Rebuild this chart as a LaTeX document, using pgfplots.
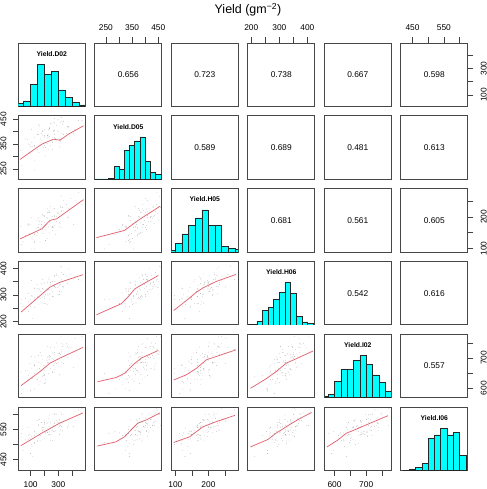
\documentclass[border=0pt]{standalone}
\usepackage{fontspec}
\setmainfont{Liberation Sans}
\usepackage{pgfplots}
\usepackage{pgfplotstable}
\pgfplotsset{compat=1.18}
\definecolor{lowred}{RGB}{226,100,112}
\definecolor{histcyan}{RGB}{0,255,255}
\newcommand\tickfont{\fontsize{8.4}{9}\selectfont}

\pgfplotstableread{
D02 D05 H05 H06 I02 I06
116 341 129 212 637 460
33 262 112 282 582 537
110 334 136 294 632 494
30 323 169 269 654 525
168 357 120 288 622 513
130 285 144 254 597 543
109 356 98 298 666 500
230 326 168 322 649 533
84 350 178 275 628 518
183 383 149 291 694 545
147 327 166 325 628 512
219 351 131 265 667 555
95 312 175 307 650 521
217 378 199 323 691 543
150 388 150 293 630 512
196 354 166 269 675 557
272 375 201 332 653 545
145 336 140 315 690 537
200 383 181 294 644 574
105 409 197 354 705 528
257 356 167 294 656 558
278 372 144 329 686 546
202 409 204 313 642 569
245 343 188 348 704 529
158 388 166 293 686 566
264 404 225 333 675 544
320 371 165 312 727 560
198 345 201 345 660 582
236 412 184 304 702 542
325 393 220 358 686 560
169 370 164 313 718 530
270 435 204 340 662 576
308 368 183 301 714 583
232 408 216 357 683 559
177 391 176 342 707 574
330 430 230 332 738 546
287 369 186 379 682 580
238 415 214 320 708 599
410 393 176 360 669 561
242 432 234 347 735 575
335 388 219 377 746 602
297 449 210 328 714 556
390 402 259 377 735 589
255 433 201 350 698 602
359 391 240 371 747 579
318 458 230 405 770 564
445 445 278 358 728 616
320 439 217 385 749 606
45 326 122 258 597 481
130 245 98 284 648 507
99 339 145 258 591 470
86 313 172 239 641 531
207 336 125 301 619 539
61 370 141 286 658 516
160 315 176 266 613 531
128 341 118 326 675 504
204 302 159 268 628 539
80 368 176 305 659 558
198 378 146 288 615 519
128 344 122 324 677 531
181 365 185 270 660 559
257 328 169 312 651 513
130 375 148 291 703 545
185 399 207 324 637 557
95 347 148 284 681 534
242 364 184 338 665 515
263 401 167 294 696 563
190 336 204 322 642 551
234 381 149 282 694 534
147 398 189 339 663 581
253 364 168 322 685 533
308 338 201 312 717 561
187 405 159 359 660 548
225 387 213 299 685 576
308 363 169 337 644 533
158 428 196 323 708 564
259 362 156 351 717 548
297 401 213 301 684 574
221 383 196 348 703 541
162 422 186 320 665 584
314 361 233 339 712 549
272 405 173 368 736 570
223 383 213 319 684 540
369 420 198 341 701 584
219 374 227 304 738 571
312 435 178 364 673 564
274 388 226 373 719 603
367 420 200 345 738 557
232 378 221 364 706 588
337 441 251 330 681 578
287 425 202 374 750 602
375 415 226 398 733 563
274 452 190 351 712 601
420 408 253 370 765 582
321 455 266 408 720 602
470 444 240 353 772 620
}\obs

\pgfplotsset{
 panel/.style={scale only axis, width=66.8bp, height=63.5bp, anchor=north west,
   axis line style={draw=black!72, line width=0.9bp},
   xtick=\empty, ytick=\empty, tick align=outside, major tick length=5.5bp,
   every tick/.style={black!75, line width=0.55bp},
   tick label style={font=\tickfont}},
 xD02/.style={xmin=12,xmax=493}, yD02/.style={ymin=12,ymax=493},
 xD05/.style={xmin=208,xmax=463}, yD05/.style={ymin=208,ymax=463},
 xH05/.style={xmin=88,xmax=290}, yH05/.style={ymin=88,ymax=290},
 xH06/.style={xmin=188,xmax=426}, yH06/.style={ymin=188,ymax=426},
 xI02/.style={xmin=568,xmax=779}, yI02/.style={ymin=568,ymax=779},
 xI06/.style={xmin=413,xmax=626}, yI06/.style={ymin=413,ymax=626},
 hist/.style={ymin=0,ymax=1.5},
 topx/.style={xtick pos=right, xticklabel pos=right, xticklabel shift=3bp},
 botx/.style={xtick pos=left, xticklabel pos=left, xticklabel shift=2.5bp},
 lefty/.style={ytick pos=left, yticklabel pos=left, yticklabel shift=3bp, yticklabel style={rotate=90,anchor=south}},
 righty/.style={ytick pos=right, yticklabel pos=right, yticklabel shift=4bp, yticklabel style={rotate=90,anchor=north}},
 topD05/.style={topx, xtick={250,300,350,400,450}, xticklabels={250,,350,,450}},
 topH06/.style={topx, xtick={200,250,300,350,400}, xticklabels={200,,300,,400}},
 topI06/.style={topx, xtick={450,500,550,600}, xticklabels={450,,550,}},
 botD02/.style={botx, xtick={100,200,300,400}, xticklabels={100,,300,}},
 botH05/.style={botx, xtick={100,150,200,250}, xticklabels={100,,200,}},
 botI02/.style={botx, xtick={600,650,700,750}, xticklabels={600,,700,}},
 leftD05/.style={lefty, ytick={250,300,350,400,450}, yticklabels={250,,350,,450}},
 leftH06/.style={lefty, ytick={200,250,300,350,400}, yticklabels={200,,300,,400}},
 leftI06/.style={lefty, ytick={450,500,550,600}, yticklabels={450,,550,}},
 rightD02/.style={righty, ytick={100,200,300,400}, yticklabels={100,,300,}},
 rightH05/.style={righty, ytick={100,150,200,250}, yticklabels={100,,200,}},
 rightI02/.style={righty, ytick={600,650,700,750}, yticklabels={600,,700,}},
 pts/.style={only marks, mark=*, mark size=0.33bp, black!40, mark options={draw opacity=0}},
 lo/.style={no marks, lowred, line width=0.75bp},
 bars/.style={ybar interval, fill=histcyan, draw=black!85, line width=0.5bp},
}
\newcommand\corr[1]{\node[font=\tickfont] at (rel axis cs:0.5,0.5) {#1};}
\newcommand\hlab[1]{\node[font=\bfseries\fontsize{6.8}{8}\selectfont] at (rel axis cs:0.5,0.83) {#1};}

\begin{document}
\begin{tikzpicture}
\path[use as bounding box] (0,0) rectangle (487bp,489bp);
\node[font=\fontsize{12.5}{14}\selectfont, anchor=base] at (248bp,475bp) {Yield (gm\textsuperscript{−2})};

% ---------- Row 1 ----------
\begin{axis}[panel, at={(18.4bp,446bp)}, xD02, hist]
\addplot[bars] coordinates {(0,0.08)(50,0.13)(100,0.52)(150,1.0)(200,0.76)(250,0.83)(300,0.39)(350,0.22)(400,0.10)(450,0.04)(500,0)};
\hlab{Yield.D02}
\end{axis}
\begin{axis}[panel, at={(94.9bp,446bp)}, xD05, yD02, topD05]
\corr{0.656}
\end{axis}
\begin{axis}[panel, at={(171.4bp,446bp)}, xH05, yD02]
\corr{0.723}
\end{axis}
\begin{axis}[panel, at={(247.9bp,446bp)}, xH06, yD02, topH06]
\corr{0.738}
\end{axis}
\begin{axis}[panel, at={(324.4bp,446bp)}, xI02, yD02]
\corr{0.667}
\end{axis}
\begin{axis}[panel, at={(400.9bp,446bp)}, xI06, yD02, topI06, rightD02]
\corr{0.598}
\end{axis}

% ---------- Row 2 ----------
\begin{axis}[panel, at={(18.4bp,373.2bp)}, xD02, yD05, leftD05]
\addplot[pts] table[x=D02,y=D05] {\obs};
\addplot[lo] coordinates {(24,288)(180,349)(264,369)(312,365)(372,389)(481,423)};
\end{axis}
\begin{axis}[panel, at={(94.9bp,373.2bp)}, xD05, hist]
\addplot[bars] coordinates {(200,0.01)(220,0.01)(240,0.01)(260,0.03)(280,0.30)(300,0.24)(320,0.69)(340,0.81)(360,0.91)(380,1.0)(400,0.42)(420,0.17)(440,0.11)(460,0)};
\hlab{Yield.D05}
\end{axis}
\begin{axis}[panel, at={(171.4bp,373.2bp)}, xH05, yD05]
\corr{0.589}
\end{axis}
\begin{axis}[panel, at={(247.9bp,373.2bp)}, xH06, yD05]
\corr{0.689}
\end{axis}
\begin{axis}[panel, at={(324.4bp,373.2bp)}, xI02, yD05]
\corr{0.481}
\end{axis}
\begin{axis}[panel, at={(400.9bp,373.2bp)}, xI06, yD05]
\corr{0.613}
\end{axis}

% ---------- Row 3 ----------
\begin{axis}[panel, at={(18.4bp,300.4bp)}, xD02, yH05]
\addplot[pts] table[x=D02,y=H05] {\obs};
\addplot[lo] coordinates {(24,130)(180,162)(240,189)(288,194)(481,255)};
\end{axis}
\begin{axis}[panel, at={(94.9bp,300.4bp)}, xD05, yH05]
\addplot[pts] table[x=D05,y=H05] {\obs};
\addplot[lo] coordinates {(214,134)(321,157)(347,173)(373,189)(457,234)};
\end{axis}
\begin{axis}[panel, at={(171.4bp,300.4bp)}, xH05, hist]
\addplot[bars] coordinates {(80,0.04)(100,0.2)(120,0.43)(140,0.63)(160,0.81)(180,1.0)(200,0.63)(220,0.63)(240,0.13)(260,0.08)(280,0.07)(300,0)};
\hlab{Yield.H05}
\end{axis}
\begin{axis}[panel, at={(247.9bp,300.4bp)}, xH06, yH05]
\corr{0.681}
\end{axis}
\begin{axis}[panel, at={(324.4bp,300.4bp)}, xI02, yH05]
\corr{0.561}
\end{axis}
\begin{axis}[panel, at={(400.9bp,300.4bp)}, xI06, yH05, rightH05]
\corr{0.605}
\end{axis}

% ---------- Row 4 ----------
\begin{axis}[panel, at={(18.4bp,227.6bp)}, xD02, yH06, leftH06]
\addplot[pts] table[x=D02,y=H06] {\obs};
\addplot[lo] coordinates {(31,236)(156,292)(240,330)(313,348)(476,376)};
\end{axis}
\begin{axis}[panel, at={(94.9bp,227.6bp)}, xD05, yH06]
\addplot[pts] table[x=D05,y=H06] {\obs};
\addplot[lo] coordinates {(214,226)(308,267)(334,292)(360,323)(386,338)(450,373)};
\end{axis}
\begin{axis}[panel, at={(171.4bp,227.6bp)}, xH05, yH06]
\addplot[pts] table[x=H05,y=H06] {\obs};
\addplot[lo] coordinates {(95,242)(133,279)(164,311)(184,327)(224,351)(283,377)};
\end{axis}
\begin{axis}[panel, at={(247.9bp,227.6bp)}, xH06, hist]
\addplot[bars] coordinates {(180,0.01)(200,0.01)(220,0.09)(240,0.34)(260,0.42)(280,0.6)(300,0.76)(320,1.0)(340,0.74)(360,0.2)(380,0.07)(400,0.04)(420,0)};
\hlab{Yield.H06}
\end{axis}
\begin{axis}[panel, at={(324.4bp,227.6bp)}, xI02, yH06]
\corr{0.542}
\end{axis}
\begin{axis}[panel, at={(400.9bp,227.6bp)}, xI06, yH06]
\corr{0.616}
\end{axis}

% ---------- Row 5 ----------
\begin{axis}[panel, at={(18.4bp,154.8bp)}, xD02, yI02]
\addplot[pts] table[x=D02,y=I02] {\obs};
\addplot[lo] coordinates {(31,608)(168,655)(240,683)(313,700)(476,735)};
\end{axis}
\begin{axis}[panel, at={(94.9bp,154.8bp)}, xD05, yI02]
\addplot[pts] table[x=D05,y=I02] {\obs};
\addplot[lo] coordinates {(218,621)(289,635)(321,649)(353,677)(386,700)(450,725)};
\end{axis}
\begin{axis}[panel, at={(171.4bp,154.8bp)}, xH05, yI02]
\addplot[pts] table[x=H05,y=I02] {\obs};
\addplot[lo] coordinates {(95,627)(133,644)(164,666)(194,694)(224,705)(283,727)};
\end{axis}
\begin{axis}[panel, at={(247.9bp,154.8bp)}, xH06, yI02]
\addplot[pts] table[x=H06,y=I02] {\obs};
\addplot[lo] coordinates {(197,599)(253,631)(289,655)(325,683)(366,700)(420,723)};
\end{axis}
\begin{axis}[panel, at={(324.4bp,154.8bp)}, xI02, hist]
\addplot[bars] coordinates {(560,0.04)(580,0.08)(600,0.39)(620,0.67)(640,0.67)(660,0.89)(680,1.0)(700,0.79)(720,0.54)(740,0.36)(760,0.16)(780,0)};
\hlab{Yield.I02}
\end{axis}
\begin{axis}[panel, at={(400.9bp,154.8bp)}, xI06, yI02, rightI02]
\corr{0.557}
\end{axis}

% ---------- Row 6 ----------
\begin{axis}[panel, at={(18.4bp,82bp)}, xD02, yI06, leftI06, botD02]
\addplot[pts] table[x=D02,y=I06] {\obs};
\addplot[lo] coordinates {(29,496)(179,538)(310,572)(476,606)};
\end{axis}
\begin{axis}[panel, at={(94.9bp,82bp)}, xD05, yI06]
\addplot[pts] table[x=D05,y=I06] {\obs};
\addplot[lo] coordinates {(217,495)(288,509)(321,526)(346,549)(372,572)(405,583)(456,606)};
\end{axis}
\begin{axis}[panel, at={(171.4bp,82bp)}, xH05, yI06, botH05]
\addplot[pts] table[x=H05,y=I06] {\obs};
\addplot[lo] coordinates {(95,507)(143,526)(184,560)(224,577)(280,598)};
\end{axis}
\begin{axis}[panel, at={(247.9bp,82bp)}, xH06, yI06]
\addplot[pts] table[x=H06,y=I06] {\obs};
\addplot[lo] coordinates {(197,492)(259,517)(288,538)(335,566)(365,583)(415,608)};
\end{axis}
\begin{axis}[panel, at={(324.4bp,82bp)}, xI02, yI06, botI02]
\addplot[pts] table[x=I02,y=I06] {\obs};
\addplot[lo] coordinates {(576,492)(610,515)(637,538)(663,549)(700,566)(769,597)};
\end{axis}
\begin{axis}[panel, at={(400.9bp,82bp)}, xI06, hist]
\addplot[bars] coordinates {(420,0.0)(440,0.02)(460,0.08)(480,0.16)(500,0.76)(520,0.84)(540,1.0)(560,0.84)(580,0.9)(600,0.36)(620,0)};
\hlab{Yield.I06}
\end{axis}
\end{tikzpicture}
\end{document}
